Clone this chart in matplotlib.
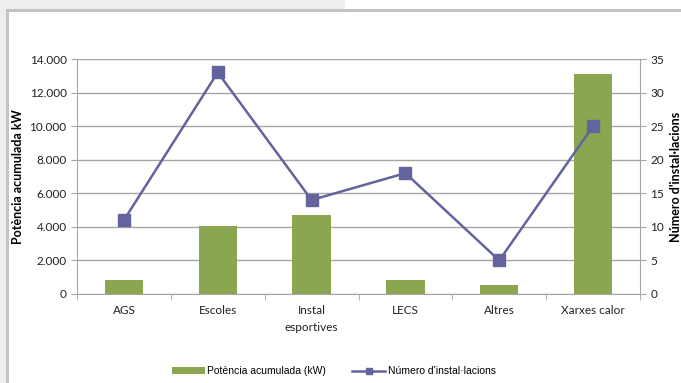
import matplotlib.pyplot as plt
import matplotlib.patches as mpatches
import numpy as np

# data
categories = ['AGS', 'Escoles', 'Instal\nesportives', 'LECS', 'Altres', 'Xarxes calor']
potencia = [850, 4050, 4720, 850, 560, 13120]     # kW
installacions = [11, 33, 14, 18, 5, 25]

bar_color = '#8BA650'
line_color = '#63639E'
grid_color = '#A6A6A6'

plt.rcParams['font.family'] = ['Lato', 'DejaVu Sans']

fig = plt.figure(figsize=(6.81, 3.83), dpi=100)

# grey frame round the chart block
fig.patches.append(mpatches.Rectangle((0, 0), 1, 1, transform=fig.transFigure,
                                      facecolor='white', edgecolor='none', zorder=-3))
fig.patches.append(mpatches.Rectangle((0, 1 - 10/383), 345/681, 10/383, transform=fig.transFigure,
                                      facecolor='#EEEEEE', edgecolor='none', zorder=-2))
fig.patches.append(mpatches.Rectangle((0, 0), 6/681, 1, transform=fig.transFigure,
                                      facecolor='#EEEEEE', edgecolor='none', zorder=-2))
fig.patches.append(mpatches.Rectangle((6/681, 1 - 12/383), 1, 3/383, transform=fig.transFigure,
                                      facecolor='#C3C3C3', edgecolor='none', zorder=-1))
fig.patches.append(mpatches.Rectangle((6/681, 0), 3/681, 1 - 9/383, transform=fig.transFigure,
                                      facecolor='#C3C3C3', edgecolor='none', zorder=-1))

ax = fig.add_axes([77/681, 1 - 294/383, 563/681, 235/383])
x = np.arange(len(categories))

ax.bar(x, potencia, width=0.41, color=bar_color, zorder=2, label='Potència acumulada (kW)')
ax.set_ylim(0, 14000)
ax.set_xlim(-0.5, len(categories) - 0.5)
ax.set_yticks(np.arange(0, 14001, 2000))
ax.set_yticklabels(['0' if v == 0 else f'{v:,}'.replace(',', '.') for v in range(0, 14001, 2000)])
ax.yaxis.grid(True, color=grid_color, linewidth=1)
ax.set_axisbelow(True)
ax.set_xticks(x)
ax.set_xticklabels(categories, fontsize=8.5, linespacing=1.6)
ax.set_xticks(np.arange(-0.5, len(categories)), minor=True)
ax.tick_params(axis='x', which='major', length=0, pad=8, colors='#222222')
ax.tick_params(axis='x', which='minor', length=4, color=grid_color)
ax.tick_params(axis='y', length=4, color=grid_color, labelsize=8.5, labelcolor='#222222')
ax.set_ylabel('Potència acumulada kW', fontsize=9, fontweight='bold', labelpad=4)
for s in ['top', 'right']:
    ax.spines[s].set_visible(False)
for s in ['left', 'bottom']:
    ax.spines[s].set_color(grid_color)

ax2 = ax.twinx()
ax2.plot(x, installacions, color=line_color, linewidth=1.8, marker='s', markersize=8,
         zorder=3, label="Número d'instal·lacions")
ax2.set_ylim(0, 35)
ax2.set_yticks(np.arange(0, 36, 5))
ax2.tick_params(axis='y', length=4, color=grid_color, labelsize=8.5, labelcolor='#222222')
ax2.set_ylabel("Número d'instal·lacions", fontsize=9, fontweight='bold', labelpad=4)
ax2.spines['top'].set_visible(False)
ax2.spines['left'].set_visible(False)
ax2.spines['bottom'].set_visible(False)
ax2.spines['right'].set_color(grid_color)

h1, l1 = ax.get_legend_handles_labels()
h2, l2 = ax2.get_legend_handles_labels()
fig.legend(h1 + h2, l1 + l2, loc='center', bbox_to_anchor=(0.49, 1 - 371/383), ncol=2,
           frameon=False, prop={'family': 'Liberation Sans', 'size': 7.5, 'stretch': 'condensed'},
           handlelength=3.2, handleheight=0.6, columnspacing=2.5, handletextpad=0.2,
           markerscale=0.6)

fig.savefig('out.png', dpi=100)
